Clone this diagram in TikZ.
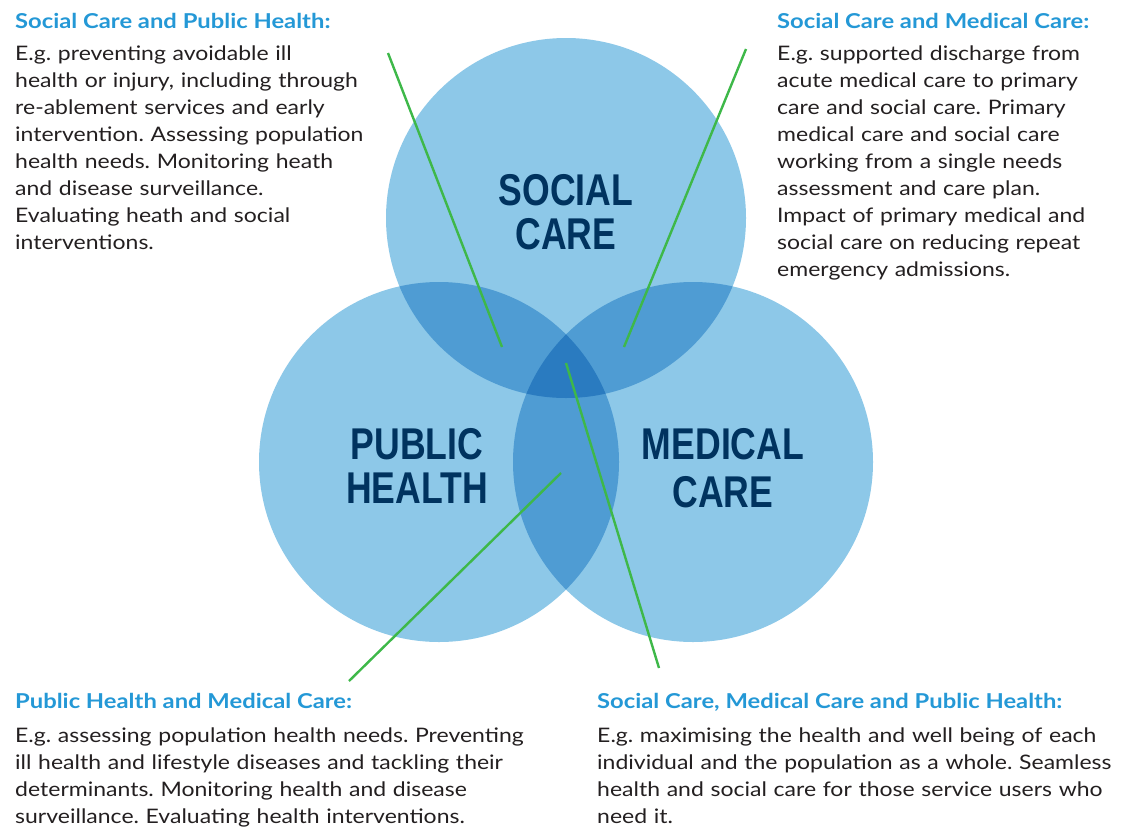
\documentclass[tikz,border=0pt]{standalone}
\usepackage{fontspec}
\usepackage{xcolor}
\usepackage{tikz}
\usetikzlibrary{calc,positioning}
\setmainfont{Lato}
\newfontfamily\bodyfam[FakeStretch=1.15]{Lato}
\newfontfamily\headfam[FakeStretch=1.16]{Lato}
\newfontfamily\condfam[FakeStretch=0.8]{Liberation Sans}
\definecolor{headblue}{RGB}{36,152,214}
\definecolor{navy}{RGB}{0,51,95}
\definecolor{lineg}{RGB}{62,184,73}
\definecolor{onecol}{RGB}{141,200,232}
\definecolor{twocol}{RGB}{79,156,211}
\definecolor{threecol}{RGB}{42,123,192}
\definecolor{inkcol}{RGB}{35,31,32}
\newcommand{\rad}{180pt}
\frenchspacing
\tikzset{%
	heading/.style  = {anchor=base west, inner sep=0pt, text=headblue, font=\headfam\bfseries\fontsize{20.5}{27}\selectfont}, % Title
	bodytext/.style = {anchor=base west, inner sep=0pt, align=left, text width=600pt, text=inkcol, font=\bodyfam\fontsize{20}{27}\selectfont}, % Text
	circlabel/.style= {anchor=base, inner sep=0pt, align=center, text width=250pt, text=navy, font=\condfam\bfseries\fontsize{44.5}{44}\selectfont}, % Circle label
	pointer/.style  = {draw=lineg, line width=2.4pt}, % Green line
}

\begin{document}
\begin{tikzpicture}[x=1pt,y=-1pt]
	\useasboundingbox (0,0) rectangle (1123,827);
	\coordinate (sc) at (566,218);
	\coordinate (ph) at (439,462);
	\coordinate (mc) at (693,462);
	
	% circles and overlaps
	\foreach \c in {sc,ph,mc}
		\fill[onecol] (\c) circle[radius=\rad];
	\begin{scope}
		\clip (sc) circle[radius=\rad];
		\fill[twocol] (ph) circle[radius=\rad];
		\fill[twocol] (mc) circle[radius=\rad];
	\end{scope}
	\begin{scope}
		\clip (ph) circle[radius=\rad];
		\fill[twocol] (mc) circle[radius=\rad];
	\end{scope}
	\begin{scope}
		\clip (sc) circle[radius=\rad];
		\clip (ph) circle[radius=\rad];
		\fill[threecol] (mc) circle[radius=\rad];
	\end{scope}
	
	\node[circlabel] (sclab) at (566,205) {SOCIAL\\CARE};
	\node[circlabel] (phlab) at (417,459) {PUBLIC\\HEALTH};
	\node[circlabel] (mclab) at (723,459) {MEDICAL\\[4pt]CARE};
	
	% text blocks
	\node[heading] (scphh) at (15,28) {Social Care and Public Health:};
	\node[bodytext] (scphb) at (15,60) {E.g. preventing avoidable ill\\health or injury, including through\\re-ablement services and early\\intervention. Assessing population\\health needs. Monitoring heath\\and disease surveillance.\\Evaluating heath and social\\interventions.};
	\node[heading] (scmch) at (777,28) {Social Care and Medical Care:};
	\node[bodytext] (scmcb) at (777,60) {E.g. supported discharge from\\acute medical care to primary\\care and social care. Primary\\medical care and social care\\working from a single needs\\assessment and care plan.\\Impact of primary medical and\\social care on reducing repeat\\emergency admissions.};
	\node[heading] (phmch) at (15,708) {Public Health and Medical Care:};
	\node[bodytext] (phmcb) at (15,742) {E.g. assessing population health needs. Preventing\\ill health and lifestyle diseases and tackling their\\determinants. Monitoring health and disease\\surveillance. Evaluating health interventions.};
	\node[heading] (allh) at (597,708) {Social Care, Medical Care and Public Health:};
	\node[bodytext] (allb) at (597,742) {E.g. maximising the health and well being of each\\individual and the population as a whole. Seamless\\health and social care for those service users who\\need it.};
	
	% pointers
	\coordinate (scph1) at (388,53);
	\coordinate (scph2) at (502,347);
	\coordinate (scmc1) at (746,49);
	\coordinate (scmc2) at (624,347);
	\coordinate (all1) at (566,363);
	\coordinate (all2) at (659,668);
	\coordinate (phmc1) at (561,473);
	\coordinate (phmc2) at (349,681);
	\draw[pointer] (scph1) -- (scph2);
	\draw[pointer] (scmc1) -- (scmc2);
	\draw[pointer] (all1) -- (all2);
	\draw[pointer] (phmc1) -- (phmc2);
\end{tikzpicture}
\end{document}
